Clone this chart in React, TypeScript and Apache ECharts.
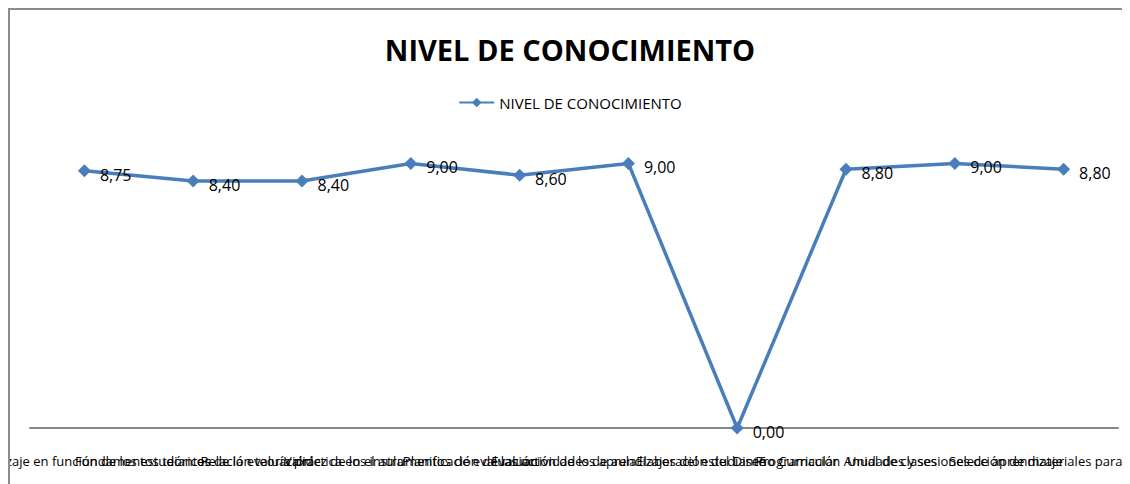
import React, { useEffect, useRef } from "react";
import * as echarts from "echarts";

const categories = [
  "Aprendizaje en función de los estudiantes",
  "Fundamentos teóricos de la evaluación",
  "Relación teoría práctica en el aula",
  "Validez de los instrumentos de evaluación",
  "Planificación de las actividades de aula",
  "Evaluación de los aprendizajes del estudiante",
  "Elaboración del Diseño Curricular",
  "Programación Anual de clases",
  "Unidades y sesiones de aprendizaje",
  "Selección de materiales para recursos",
];
const values = [8.75, 8.4, 8.4, 9.0, 8.6, 9.0, 0.0, 8.8, 9.0, 8.8];
const seriesName = "NIVEL DE CONOCIMIENTO";
const titleText = "NIVEL DE CONOCIMIENTO";

const FONT = "'Open Sans', sans-serif";

export default function App() {
  const ref = useRef<HTMLDivElement>(null);
  useEffect(() => {
    if (!ref.current) return;
    const chart = echarts.init(ref.current, null, { renderer: "svg" });
    chart.setOption({
      animation: false,
      backgroundColor: "#ffffff",
      title: {
        text: titleText,
        left: "center",
        top: 20,
        textStyle: { fontFamily: FONT, fontWeight: "bold", fontSize: 29, color: "#000" },
      },
      legend: {
        top: 80,
        left: "center",
        itemWidth: 35,
        itemHeight: 12,
        itemGap: 8,
        data: [seriesName],
        textStyle: { fontFamily: FONT, fontSize: 15, color: "#000" },
      },
      grid: { left: 20, right: 12, top: 124, bottom: 56, containLabel: false, outerBoundsMode: "none" },
      xAxis: {
        type: "category",
        data: categories,
        boundaryGap: true,
        axisLine: { show: true, lineStyle: { color: "#868686", width: 2 } },
        axisTick: { show: false },
        axisLabel: {
          interval: 0,
          hideOverlap: false,
          margin: 26,
          fontFamily: FONT,
          fontSize: 13,
          color: "#000",
        },
      },
      yAxis: {
        type: "value",
        min: 0,
        max: 10,
        show: false,
        splitLine: { show: false },
      },
      series: [
        {
          name: seriesName,
          type: "line",
          data: values,
          symbol: "diamond",
          symbolSize: 13,
          lineStyle: { color: "#4a7ebb", width: 3.5 },
          itemStyle: { color: "#4a7ebb" },
          label: {
            show: true,
            position: "right",
            distance: 9,
            offset: [0, 4],
            fontFamily: FONT,
            fontSize: 16,
            color: "#000",
            formatter: (p: any) => Number(p.value).toFixed(2).replace(".", ","),
          },
        },
      ],
    });
    return () => chart.dispose();
  }, []);
  return (
    <div
      style={{
        width: 1122,
        height: 476,
        borderTop: "2px solid #8c8c8c",
        borderLeft: "2px solid #8c8c8c",
        boxSizing: "border-box",
      }}
    >
      <div ref={ref} style={{ width: 1120, height: 474 }} />
    </div>
  );
}
